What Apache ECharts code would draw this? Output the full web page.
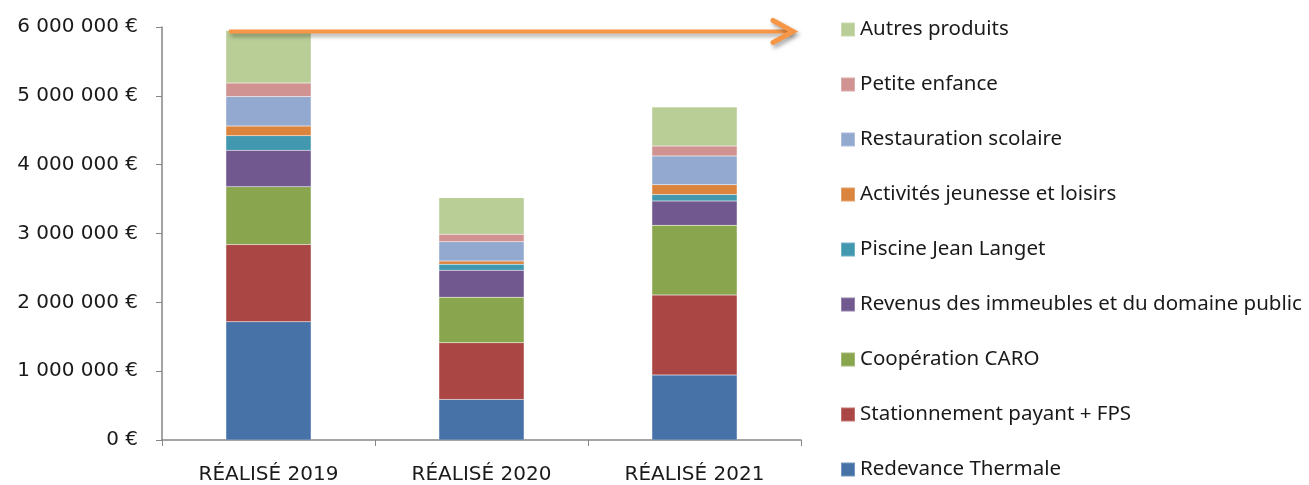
<!DOCTYPE html>
<html>
<head>
<meta charset="utf-8">
<script src="https://cdn.jsdelivr.net/npm/echarts@6/dist/echarts.min.js"></script>
<style>
  html, body { margin: 0; padding: 0; background: #fff; }
  #main { width: 1309px; height: 485px; }
</style>
</head>
<body>
<div id="main"></div>
<script>
// categories
const years = ["RÉALISÉ 2019", "RÉALISÉ 2020", "RÉALISÉ 2021"];

// series values (€), stacked bottom to top
const redevanceThermale = [1717000, 590000, 943000];
const stationnement = [1123000, 822000, 1162000];
const cooperationCaro = [840000, 663000, 1015000];
const revenusImmeubles = [530000, 392000, 353000];
const piscine = [210000, 87000, 93000];
const activitesJeunesse = [140000, 46000, 144000];
const restauration = [430000, 280000, 416000];
const petiteEnfance = [196000, 110000, 144000];
const autresProduits = [764000, 530000, 567000];

const yTicks = [0, 1000000, 2000000, 3000000, 4000000, 5000000, 6000000];

const seriesDefs = [
  { name: "Redevance Thermale", data: redevanceThermale, color: "#4672A8" },
  { name: "Stationnement payant + FPS", data: stationnement, color: "#AA4643" },
  { name: "Coopération CARO", data: cooperationCaro, color: "#89A54E" },
  { name: "Revenus des immeubles et du domaine public", data: revenusImmeubles, color: "#71588F" },
  { name: "Piscine Jean Langet", data: piscine, color: "#4198AF" },
  { name: "Activités jeunesse et loisirs", data: activitesJeunesse, color: "#DB843D" },
  { name: "Restauration scolaire", data: restauration, color: "#93A9CF" },
  { name: "Petite enfance", data: petiteEnfance, color: "#D19392" },
  { name: "Autres produits", data: autresProduits, color: "#B9CD96" },
];

const legendFont = "Noto Sans";
const axisFont = "DejaVu Sans";

function euro(v) {
  return String(v).replace(/\B(?=(\d{3})+(?!\d))/g, " ") + " €";
}

const chart = echarts.init(document.getElementById("main"));

const option = {
  animation: false,
  textStyle: { fontFamily: legendFont },
  grid: { left: 162, right: 508, top: 27, bottom: 45 },
  legend: {
    orient: "vertical",
    left: 840,
    top: 19,
    padding: 0,
    itemWidth: 14,
    itemHeight: 14,
    itemGap: 34,
    icon: "rect",
    height: 470,
    data: seriesDefs.map((s) => s.name).reverse(),
    textStyle: { fontSize: 20.5, lineHeight: 20, color: "#1a1a1a", fontFamily: legendFont },
  },
  xAxis: {
    type: "category",
    data: years,
    axisLine: { lineStyle: { color: "#868686", width: 1.5 } },
    axisTick: { show: true, length: 6, lineStyle: { color: "#868686" } },
    axisLabel: { color: "#1a1a1a", fontSize: 20, margin: 25, fontFamily: axisFont },
  },
  yAxis: {
    type: "value",
    min: yTicks[0],
    max: yTicks[yTicks.length - 1],
    interval: 1000000,
    splitLine: { show: false },
    axisLine: { show: true, lineStyle: { color: "#868686", width: 1.5 } },
    axisTick: { show: true, length: 6, lineStyle: { color: "#868686" } },
    axisLabel: {
      color: "#1a1a1a",
      fontSize: 20,
      margin: 24,
      fontFamily: axisFont,
      formatter: (v) => euro(v),
    },
  },
  series: seriesDefs.map((s) => ({
    name: s.name,
    type: "bar",
    stack: "total",
    barWidth: "40%",
    data: s.data,
    itemStyle: { color: s.color, borderColor: "rgba(255,255,255,0.25)", borderWidth: 0.5 },
  })),
};

chart.setOption(option);

// arrow annotation from the top of the 2019 bar towards the legend
const total2019 = seriesDefs.reduce((acc, s) => acc + s.data[0], 0);
const top2019 = chart.convertToPixel({ gridIndex: 0 }, [years[0], total2019]);
const bandHalf = 213 * 0.4 / 2;
const x0 = top2019[0] - bandHalf + 3;
const y0 = top2019[1] + 1;
const x1 = 793;
const arrowColor = "#F79646";
const shadow = { shadowBlur: 4, shadowColor: "rgba(0,0,0,0.35)", shadowOffsetX: 2, shadowOffsetY: 3 };

chart.setOption({
  graphic: [
    {
      type: "line",
      z: 100,
      shape: { x1: x0, y1: y0, x2: x1 - 2, y2: y0 },
      style: Object.assign({ stroke: arrowColor, lineWidth: 4, lineCap: "butt" }, shadow),
    },
    {
      type: "polyline",
      z: 100,
      shape: { points: [[x1 - 20, y0 - 11], [x1, y0], [x1 - 20, y0 + 11]] },
      style: Object.assign({ stroke: arrowColor, lineWidth: 5, lineCap: "round", lineJoin: "miter", fill: null }, shadow),
    },
  ],
});
</script>
</body>
</html>
